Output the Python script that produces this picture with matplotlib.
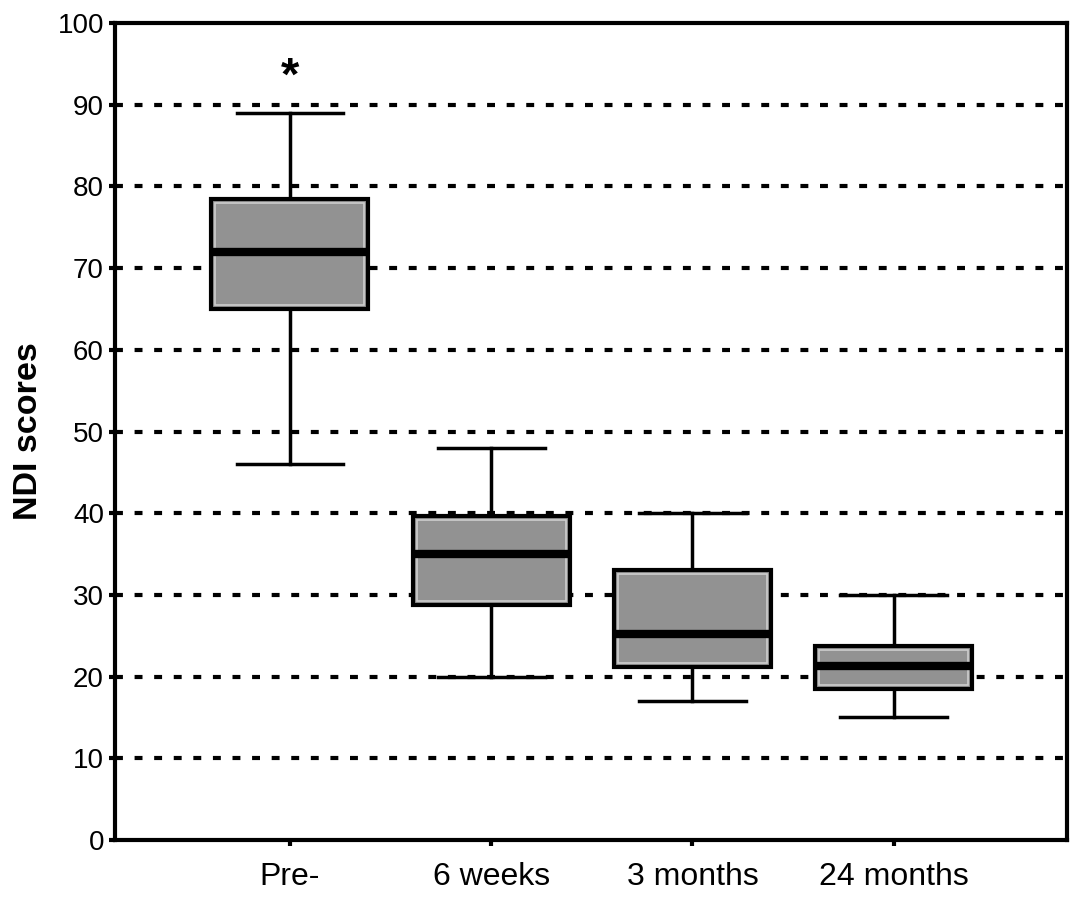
import matplotlib.pyplot as plt
from matplotlib.patches import Rectangle

plt.rcParams['font.family'] = ['Liberation Sans', 'DejaVu Sans']

# data
groups = ["Pre-", "6 weeks", "3 months", "24 months"]
whisker_low = [46, 20, 17, 15]
q1 = [65, 28.8, 21.2, 18.5]
median = [72, 35, 25.2, 21.3]
q3 = [78.5, 39.7, 33, 23.7]
whisker_high = [89, 48, 40, 30]
star_y = 93.3

stats = []
for i, g in enumerate(groups):
    stats.append({"label": g, "whislo": whisker_low[i], "q1": q1[i], "med": median[i],
                  "q3": q3[i], "whishi": whisker_high[i], "fliers": []})

fig = plt.figure(figsize=(10.82, 9), dpi=100)
ax = fig.add_axes([0.1063, 0.0667, 0.8797, 0.9077])

positions = [1, 2, 3, 4]

# dashed grid lines
for y in range(10, 100, 10):
    ax.axhline(y, color="black", lw=3, ls=(0, (1.9, 2.8)), zorder=1)

bp = ax.bxp(stats, positions=positions, widths=0.78, patch_artist=True,
            showfliers=False, capwidths=0.53,
            boxprops=dict(facecolor="#929292", edgecolor="black", linewidth=3),
            medianprops=dict(color="black", linewidth=6, solid_capstyle="butt"),
            whiskerprops=dict(color="black", linewidth=2.5),
            capprops=dict(color="black", linewidth=2.5))
for b in bp["boxes"]:
    b.set_zorder(3)
    # light inner border like the original rendering
    v = b.get_path().vertices
    x0, x1 = v[:, 0].min(), v[:, 0].max()
    y0, y1 = v[:, 1].min(), v[:, 1].max()
    ax.add_patch(Rectangle((x0 + 0.02, y0 + 0.5), (x1 - x0) - 0.04, (y1 - y0) - 1.0,
                           fill=False, edgecolor="#cdcdcd", lw=1.2, zorder=3.5))
for m in bp["medians"]:
    m.set_zorder(4)

ax.text(1, star_y, "*", ha="center", va="center", fontsize=34, fontweight="bold")

ax.set_xlim(0.131, 4.86)
ax.set_ylim(0, 100)
ax.set_yticks(range(0, 101, 10))
ax.set_xticks(positions)
ax.set_xticklabels(groups)
ax.set_ylabel("NDI scores", fontsize=24.5, fontweight="bold", labelpad=10)

for s in ax.spines.values():
    s.set_linewidth(3)
ax.tick_params(axis="both", length=4, width=3)
ax.tick_params(axis="y", labelsize=20, pad=4)
ax.tick_params(axis="x", labelsize=23, pad=12)

fig.savefig("out.png", dpi=100)
